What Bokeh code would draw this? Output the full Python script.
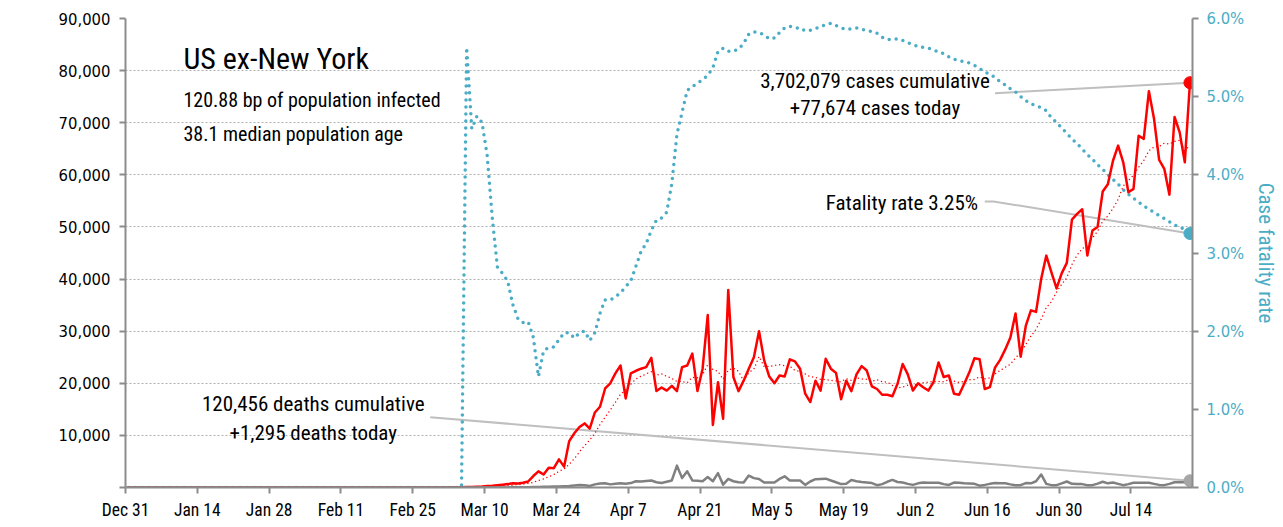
import numpy as np
import pandas as pd
from bokeh.plotting import figure
from bokeh.models import (Range1d, LinearAxis, FixedTicker, NumeralTickFormatter,
                          PrintfTickFormatter, Label, ColumnDataSource)
from bokeh.embed import file_html
from bokeh.resources import INLINE

# ---------------- data (daily, starting Dec 31, 2019) ----------------
start_date = "2019-12-31"

new_cases = [0] * 62 + [
    20, 30, 40, 60, 90, 120, 150, 200, 280, 350, 450, 550, 650, 800, 750, 900,
    1150, 2200, 3100, 2500, 3800, 3700, 5400, 4000, 8900, 10400,
    11600, 12300, 11300, 14400, 15500, 19000, 20000, 21900, 23400, 17100,
    21900, 22400, 22800, 23100, 24900, 18500, 19200, 18600, 19500, 18500,
    23100, 23400, 25700, 18500, 22800, 33100, 12000, 20200, 13200, 37900,
    21200, 18500, 20500, 22800, 25000, 30000, 24400, 21300, 20000, 21500,
    21300, 24600, 24200, 22800, 18000, 16400, 20500, 18600, 24700, 22800,
    22000, 16950, 20500, 18500, 21700, 23300, 22450, 19400, 18900, 17800,
    17800, 17500, 19900, 23700, 21700, 18600, 20000, 19250, 18600, 20200,
    24000, 21200, 21500, 18000, 17800, 19900, 22100, 24800, 24600, 18900,
    19250, 23000, 24500, 26500, 28800, 33400, 25100, 31000, 34000, 33700,
    40000, 44500, 41300, 38200, 41100, 43100, 51400, 52500, 53400, 44500,
    49300, 50000, 56800, 58200, 62700, 65600, 62400, 56650, 57300, 67500,
    66900, 76050, 70750, 62850, 61150, 56200, 71100, 68150, 62400, 77674,
]

new_deaths = [0] * 60 + [
    0, 0, 0, 1, 1, 1, 2, 2, 3, 4,
    5, 8, 10, 15, 20, 30, 40, 50, 60, 80,
    100, 120, 150, 180, 200, 250, 300, 400, 500, 450,
    300, 600, 750, 800, 600, 700, 800, 700, 850, 1200,
    1150, 1250, 1350, 1000, 850, 1100, 1350, 4200, 1800, 3100,
    1350, 1300, 1200, 2000, 1200, 2750, 550, 1650, 1200, 1000,
    950, 2300, 1800, 1650, 950, 950, 950, 1650, 2150, 1350,
    1350, 1350, 500, 1150, 1600, 1650, 1700, 1350, 1000, 650,
    700, 1450, 1200, 1050, 950, 850, 450, 650, 1100, 1450,
    1050, 950, 700, 500, 800, 950, 920, 900, 900, 650,
    500, 950, 900, 800, 750, 700, 350, 500, 700, 850,
    820, 800, 600, 450, 450, 850, 800, 1200, 2500, 700,
    450, 450, 800, 1150, 700, 650, 650, 450, 450, 750,
    1100, 800, 950, 700, 450, 650, 900, 900, 900, 900,
    700, 500, 450, 700, 1000, 1000, 1000, 1295,
]

fatality_rate = [0.0] * 66 + [
    5.63, 4.59, 4.75, 4.67, 4.25, 3.45, 2.82, 2.74, 2.64, 2.34,
    2.16, 2.11, 2.12, 1.92, 1.42, 1.75, 1.79, 1.80, 1.89, 1.98,
    1.98, 1.91, 1.98, 2.00, 1.88, 1.98, 2.23, 2.40, 2.40, 2.44,
    2.49, 2.57, 2.64, 2.83, 3.02, 3.12, 3.29, 3.42, 3.45, 3.52,
    3.89, 4.52, 4.80, 5.08, 5.13, 5.17, 5.22, 5.27, 5.37, 5.58,
    5.62, 5.58, 5.58, 5.61, 5.68, 5.80, 5.83, 5.82, 5.79, 5.74,
    5.75, 5.82, 5.88, 5.90, 5.88, 5.88, 5.84, 5.85, 5.87, 5.90,
    5.92, 5.94, 5.91, 5.88, 5.86, 5.87, 5.88, 5.86, 5.85, 5.83,
    5.81, 5.76, 5.73, 5.73, 5.74, 5.72, 5.69, 5.67, 5.64, 5.63,
    5.62, 5.60, 5.57, 5.55, 5.51, 5.48, 5.46, 5.45, 5.43, 5.40,
    5.36, 5.32, 5.28, 5.25, 5.19, 5.15, 5.10, 5.06, 5.00, 4.95,
    4.91, 4.88, 4.86, 4.82, 4.73, 4.67, 4.60, 4.53, 4.46, 4.40,
    4.33, 4.26, 4.20, 4.13, 4.07, 4.00, 3.94, 3.88, 3.81, 3.75,
    3.70, 3.65, 3.60, 3.56, 3.52, 3.48, 3.44, 3.40, 3.36, 3.33,
    3.30, 3.25,
]

tick_labels = ["Dec 31", "Jan 14", "Jan 28", "Feb 11", "Feb 25", "Mar 10", "Mar 24",
               "Apr 7", "Apr 21", "May 5", "May 19", "Jun 2", "Jun 16", "Jun 30", "Jul 14"]
y_ticks = [0, 10000, 20000, 30000, 40000, 50000, 60000, 70000, 80000, 90000]
rate_ticks = [0, 1, 2, 3, 4, 5, 6]

title_text = "US ex-New York"
sub_lines = ["120.88 bp of population infected", "38.1 median population age"]
cases_lines = ["3,702,079 cases cumulative", "+77,674 cases today"]
deaths_lines = ["120,456 deaths cumulative", "+1,295 deaths today"]
rate_text = "Fatality rate 3.25%"

# ---------------- derived ----------------
n = len(new_cases)
dates = pd.date_range(start_date, periods=n, freq="D")
day = (dates - pd.Timestamp(start_date)).days.values + 0.5   # plotted at mid-day
cases_ma = pd.Series(new_cases, dtype=float).rolling(7, min_periods=1).mean().values
tick_days = [14 * i for i in range(len(tick_labels))]

src = ColumnDataSource(dict(x=day, cases=new_cases, ma=cases_ma,
                            deaths=new_deaths, rate=fatality_rate))
last = ColumnDataSource(dict(x=[day[-1]], cases=[new_cases[-1]],
                             deaths=[new_deaths[-1]], rate=[fatality_rate[-1]]))

FONT = "Roboto Condensed, DejaVu Sans Condensed"
NUMFONT = "DejaVu Sans Condensed"
TEAL = "#4bacc6"
AXIS_GRAY = "#8c8c8c"

p = figure(width=1283, height=527, x_range=Range1d(0, 208), y_range=Range1d(0, 90000),
           output_backend="svg", toolbar_location=None,
           min_border_left=125, min_border_right=91, min_border_top=18, min_border_bottom=40)
p.extra_y_ranges = {"rate": Range1d(0, 6)}
p.outline_line_color = None
p.background_fill_color = "white"

# axes
xa = p.xaxis[0]
xa.ticker = FixedTicker(ticks=tick_days)
xa.major_label_overrides = {t: l for t, l in zip(tick_days, tick_labels)}
ya = p.yaxis[0]
ya.ticker = FixedTicker(ticks=y_ticks)
ya.formatter = NumeralTickFormatter(format="0,0")
ya.major_label_overrides = {0: ""}
ra = LinearAxis(y_range_name="rate", ticker=FixedTicker(ticks=rate_ticks),
                formatter=PrintfTickFormatter(format="%.1f%%"),
                axis_label="Case fatality rate")
p.add_layout(ra, "right")

for ax in (xa, ya, ra):
    ax.axis_line_color = AXIS_GRAY
    ax.axis_line_width = 2
    ax.major_tick_line_color = AXIS_GRAY
    ax.major_tick_line_width = 2
    ax.major_tick_out = 6
    ax.major_tick_in = 0
    ax.minor_tick_line_color = None
    ax.major_label_text_color = "black"
xa.major_label_text_font = FONT
xa.major_label_text_font_size = "17.5px"
xa.major_label_standoff = 6
ya.major_label_text_font = NUMFONT
ya.major_label_text_font_size = "16.5px"
ya.major_label_standoff = 9
ra.major_label_text_font = NUMFONT
ra.major_label_text_font_size = "16.5px"
ra.major_label_text_color = TEAL
ra.major_label_standoff = 8
ra.axis_label_text_font = FONT
ra.axis_label_text_font_size = "21px"
ra.axis_label_text_font_style = "normal"
ra.axis_label_text_color = TEAL
ra.axis_label_standoff = 7

p.xgrid.grid_line_color = None
p.ygrid.ticker = FixedTicker(ticks=y_ticks[1:])
p.ygrid.grid_line_color = "#b0b0b0"
p.ygrid.grid_line_dash = "2 2"
p.ygrid.grid_line_width = 1

# leader lines (annotation connectors)
LEAD = "#bfbfbf"
p.line(x=[169.5, day[-1]], y=[75670, new_cases[-1]], line_color=LEAD, line_width=2)
p.line(x=[59.4, day[-1]], y=[13490, new_deaths[-1]], line_color=LEAD, line_width=2)
p.line(x=[167.5, 169.2, day[-1]], y=[3.66, 3.66, fatality_rate[-1]], line_color=LEAD,
       line_width=2, y_range_name="rate")

# data
p.line("x", "rate", source=src, y_range_name="rate", line_color=TEAL, line_width=3.5,
       line_dash="0 7", line_cap="round")
p.line("x", "ma", source=src, line_color="#ff0000", line_width=1.5, line_dash="0 4",
       line_cap="round")
p.line("x", "cases", source=src, line_color="#ff0000", line_width=2.5, line_join="round")
p.line("x", "deaths", source=src, line_color="#808080", line_width=2.5, line_join="round")

p.scatter("x", "cases", source=last, size=12, color="#ff0000")
p.scatter("x", "rate", source=last, size=12, color=TEAL, y_range_name="rate")
p.scatter("x", "deaths", source=last, size=12, color="#a6a6a6")

# texts
def add_text(x, y, text, size, align="left", y_range_name="default"):
    p.add_layout(Label(x=x, y=y, text=text, text_font=FONT, text_font_size=size,
                       text_baseline="middle", text_align=align, text_color="black",
                       y_range_name=y_range_name))

add_text(11.3, 82300, title_text, "30px")
add_text(11.3, 74450, sub_lines[0], "20px")
add_text(11.3, 67930, sub_lines[1], "20px")
add_text(146.1, 78100, cases_lines[0], "21px", "center")
add_text(146.1, 72920, cases_lines[1], "21px", "center")
add_text(166.2, 3.646, rate_text, "21px", "right", "rate")
add_text(36.6, 15930, deaths_lines[0], "21px", "center")
add_text(36.6, 10550, deaths_lines[1], "21px", "center")
# left axis title
p.add_layout(Label(x=-20.85, y=41450, text="Daily new cases and deaths", text_font=FONT,
                   text_font_size="21px", angle=np.pi / 2, text_align="center",
                   text_baseline="middle", text_color="black"))

open("out.html", "w").write(file_html(p, INLINE))
